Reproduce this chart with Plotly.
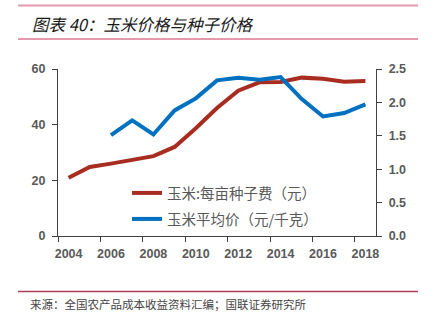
import plotly.graph_objects as go

years = list(range(2004, 2019))
seed_cost = [20.9, 24.8, 26.0, 27.2, 28.7, 32.0, 38.7, 46.0, 52.2, 55.2, 55.3, 56.9, 56.5, 55.4, 55.7]
corn_years = list(range(2006, 2019))
corn_price = [1.51, 1.73, 1.52, 1.88, 2.06, 2.33, 2.37, 2.34, 2.38, 2.05, 1.79, 1.84, 1.97]

seed_name = "玉米:每亩种子费（元）"
corn_name = "玉米平均价（元/千克）"
title_text = "图表 40：玉米价格与种子价格"
source_text = "来源：全国农产品成本收益资料汇编；国联证券研究所"

W, H = 434, 322
L, R, T, B = 58, 58, 69, 86
pw, ph = W - L - R, H - T - B


def px(x):
    return (x - L) / pw


def py(y):
    return (H - B - y) / ph


red = "#A82C20"
blue = "#0070C0"
axis_col = "#404040"
tick_font = dict(family="Liberation Sans, Arial, sans-serif", size=12.5,
                 color="#595959", weight="bold")
cjk = "Noto Sans CJK SC"

fig = go.Figure()
fig.add_trace(go.Scatter(x=years, y=seed_cost, name=seed_name, mode="lines",
                         line=dict(color=red, width=4), legend="legend"))
fig.add_trace(go.Scatter(x=corn_years, y=corn_price, name=corn_name, mode="lines",
                         line=dict(color=blue, width=4), yaxis="y2", legend="legend2"))

legend_common = dict(font=dict(family=cjk, size=14.5, color="#595959"),
                     bgcolor="rgba(0,0,0,0)", xanchor="left", yanchor="middle",
                     itemwidth=30)

fig.update_layout(
    width=W, height=H,
    margin=dict(l=L, r=R, t=T, b=B),
    paper_bgcolor="white", plot_bgcolor="white",
    showlegend=True,
    legend=dict(x=px(127), y=py(193), **legend_common),
    legend2=dict(x=px(127), y=py(219), **legend_common),
    xaxis=dict(
        range=[2003.5, 2018.5], tickmode="array", tickvals=list(range(2004, 2019, 2)),
        ticks="", showline=True, linecolor=axis_col, linewidth=1.3,
        showgrid=False, zeroline=False, tickfont=tick_font,
        ticklabelstandoff=6,
        minor=dict(tick0=2003.5, dtick=2, ticks="outside", ticklen=5,
                   tickcolor=axis_col, tickwidth=1.3, showgrid=False),
    ),
    yaxis=dict(
        range=[0, 60], dtick=20, ticks="outside", ticklen=5, tickcolor=axis_col,
        tickwidth=1.3, showline=True, linecolor=axis_col, linewidth=1.3,
        showgrid=False, zeroline=False, tickfont=tick_font, ticklabelstandoff=4,
    ),
    yaxis2=dict(
        range=[0, 2.5], dtick=0.5, tickformat=".1f", overlaying="y", side="right",
        ticks="outside", ticklen=5, tickcolor=axis_col, tickwidth=1.3,
        showline=True, linecolor=axis_col, linewidth=1.3,
        showgrid=False, zeroline=False, tickfont=tick_font, ticklabelstandoff=4,
    ),
    shapes=[
        dict(type="line", xref="paper", yref="paper", x0=px(18), x1=px(418),
             y0=py(5.5), y1=py(5.5), line=dict(color="#E59AAC", width=2)),
        dict(type="line", xref="paper", yref="paper", x0=px(18), x1=px(418),
             y0=py(39), y1=py(39), line=dict(color="#E59AAC", width=2)),
        dict(type="line", xref="paper", yref="paper", x0=px(18), x1=px(418),
             y0=py(291.5), y1=py(291.5), line=dict(color="#B23A5C", width=1.5)),
    ],
    annotations=[
        dict(text="<i>" + title_text + "</i>", xref="paper", yref="paper",
             x=px(30), y=py(24), xanchor="left", yanchor="middle", showarrow=False,
             font=dict(family=cjk, size=16.5, color="#1a1a1a")),
        dict(text=source_text, xref="paper", yref="paper",
             x=px(28), y=py(304), xanchor="left", yanchor="middle", showarrow=False,
             font=dict(family=cjk, size=11.5, color="#444444")),
    ],
)

fig.write_html("out.html")
